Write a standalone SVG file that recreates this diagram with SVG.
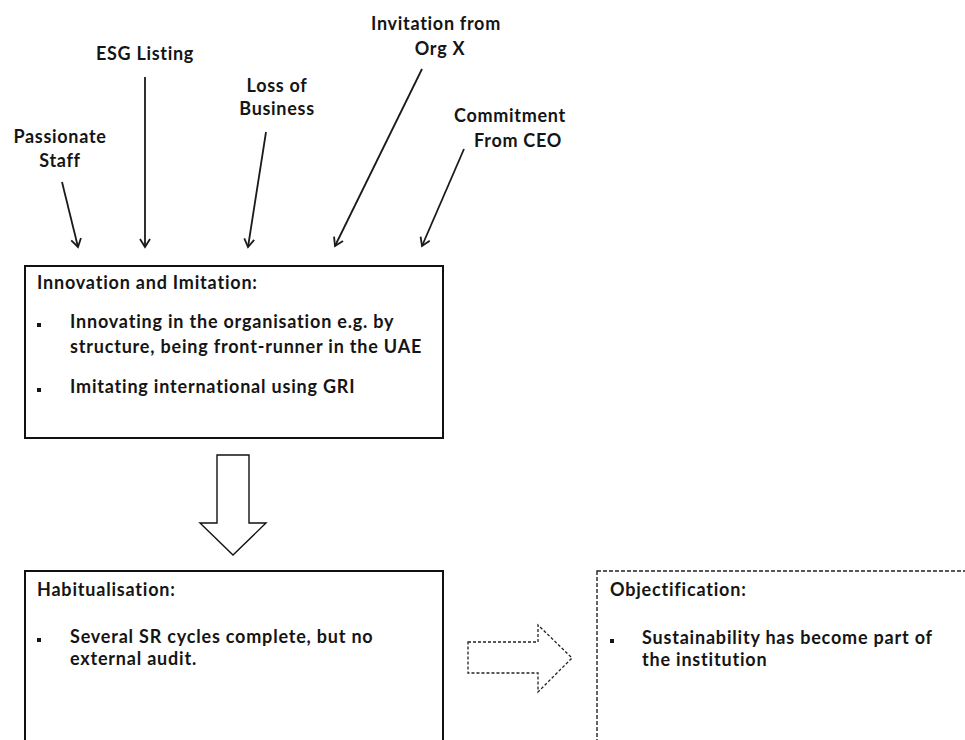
<svg xmlns="http://www.w3.org/2000/svg" width="965" height="740" viewBox="0 0 965 740">
  <style>
    text { font-family: Lato, "Liberation Sans", sans-serif; font-weight: bold; font-size: 18px; letter-spacing: 0.8px; fill: #151515; }
    .lbl { text-anchor: middle; letter-spacing: 0.7px; }
    .box { fill: #ffffff; stroke: #111111; stroke-width: 2; }
    .dbox { fill: #ffffff; stroke: #222222; stroke-width: 1.4; stroke-dasharray: 4 2; }
    .conn { stroke: #1a1a1a; stroke-width: 1.8; fill: none; marker-end: url(#head); }
    .block { fill: #ffffff; stroke: #111111; stroke-width: 1.4; stroke-linejoin: miter; }
    .dblock { fill: #ffffff; stroke: #222222; stroke-width: 1.3; stroke-dasharray: 3 2; }
    .dot { fill: #151515; }
  </style>
  <defs>
    <marker id="head" viewBox="0 0 12 12" refX="10" refY="6" markerWidth="12" markerHeight="12" markerUnits="userSpaceOnUse" orient="auto">
      <path d="M2,1 L10,6 L2,11" fill="none" stroke="#1a1a1a" stroke-width="1.8"/>
    </marker>
  </defs>

  <rect width="965" height="740" fill="#ffffff"/>

  <!-- driver labels -->
  <g id="passionate-staff">
    <text class="lbl" x="60" y="143">Passionate</text>
    <text class="lbl" x="60" y="167">Staff</text>
  </g>
  <g id="esg-listing">
    <text class="lbl" x="145" y="60">ESG Listing</text>
  </g>
  <g id="loss-of-business">
    <text class="lbl" x="277" y="92">Loss of</text>
    <text class="lbl" x="277" y="115">Business</text>
  </g>
  <g id="invitation-org-x">
    <text class="lbl" x="436" y="30">Invitation from</text>
    <text class="lbl" x="440" y="55">Org X</text>
  </g>
  <g id="commitment-ceo">
    <text class="lbl" x="510" y="122">Commitment</text>
    <text class="lbl" x="518" y="147">From CEO</text>
  </g>

  <!-- driver connectors -->
  <g id="connectors">
    <line class="conn" x1="62" y1="182" x2="78" y2="247"/>
    <line class="conn" x1="145" y1="77" x2="145" y2="247"/>
    <line class="conn" x1="266" y1="132" x2="248" y2="247"/>
    <line class="conn" x1="422" y1="69" x2="335" y2="246"/>
    <line class="conn" x1="464" y1="149" x2="422" y2="246"/>
  </g>

  <!-- stage 1 -->
  <g id="innovation-imitation">
    <rect class="box" x="25" y="266" width="418" height="172"/>
    <text x="37" y="289">Innovation and Imitation:</text>
    <rect class="dot" x="37" y="323" width="4" height="4"/>
    <text x="70" y="328">Innovating in the organisation e.g. by</text>
    <text x="70" y="353">structure, being front-runner in the UAE</text>
    <rect class="dot" x="37" y="388" width="4" height="4"/>
    <text x="70" y="393">Imitating international using GRI</text>
  </g>

  <!-- block arrow down -->
  <g id="arrow-down">
    <path class="block" d="M217,455 H249 V523 H266 L233,555 L200,523 H217 Z"/>
  </g>

  <!-- stage 2 -->
  <g id="habitualisation">
    <rect class="box" x="25" y="571" width="418" height="190"/>
    <text x="37" y="596">Habitualisation:</text>
    <rect class="dot" x="37" y="638" width="4" height="4"/>
    <text x="70" y="643">Several SR cycles complete, but no</text>
    <text x="70" y="665">external audit.</text>
  </g>

  <!-- dashed block arrow right -->
  <g id="arrow-right">
    <path class="dblock" d="M468,642 H538 V625 L572,658 L538,692 V673 H468 Z"/>
  </g>

  <!-- stage 3 -->
  <g id="objectification">
    <rect class="dbox" x="597" y="571" width="400" height="190"/>
    <text x="610" y="596">Objectification:</text>
    <rect class="dot" x="610" y="639" width="4" height="4"/>
    <text x="642" y="644">Sustainability has become part of</text>
    <text x="642" y="666">the institution</text>
  </g>
</svg>
